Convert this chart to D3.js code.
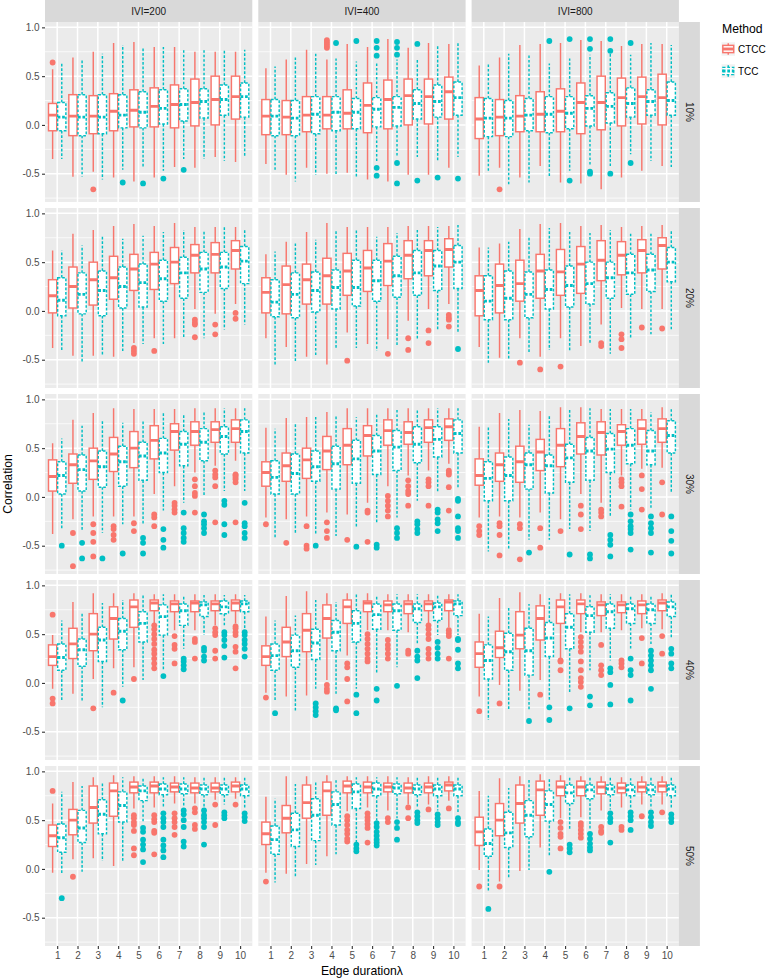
<!DOCTYPE html>
<html><head><meta charset="utf-8">
<script src="https://cdn.jsdelivr.net/npm/d3@7"></script>
<style>
body{margin:0;background:#fff}
svg{display:block}
text{font-family:"Liberation Sans",Arial,Helvetica,sans-serif}
</style>
</head><body><svg id="chart" width="777" height="980"></svg>
<script>
// ---------------- data ----------------
const categories = ["1","2","3","4","5","6","7","8","9","10"];
const iviLabels = ["IVI=200","IVI=400","IVI=800"];
const densityLabels = ["10%","20%","30%","40%","50%"];
const methods = ["CTCC","TCC"];
const yTicks = [-0.5, 0.0, 0.5, 1.0];
// each box: [lower whisker, Q1, median, Q3, upper whisker, ...outliers]; one list of 10 boxes per IVI panel
const ctcc10 = [
 [[-0.35,-0.06,0.10,0.22,0.57,0.64],[-0.53,-0.11,0.09,0.31,0.69],[-0.48,-0.09,0.09,0.30,0.75,-0.66],[-0.54,-0.06,0.14,0.32,0.84],[-0.58,-0.02,0.15,0.36,0.85],[-0.54,-0.02,0.19,0.38,0.80],[-0.43,-0.03,0.21,0.41,0.80],[-0.44,-0.01,0.23,0.47,0.75],[-0.33,0.00,0.26,0.50,0.75],[-0.38,0.06,0.29,0.50,0.75]],
 [[-0.40,-0.10,0.09,0.26,0.58],[-0.51,-0.10,0.08,0.25,0.67],[-0.44,-0.07,0.10,0.29,0.77],[-0.50,-0.04,0.10,0.29,0.67,0.79,0.81,0.83,0.85,0.87],[-0.49,-0.04,0.12,0.36,0.83],[-0.56,-0.08,0.20,0.43,0.80],[-0.58,-0.04,0.26,0.46,0.88],[-0.51,0.00,0.30,0.47,0.79],[-0.51,0.01,0.29,0.47,0.84],[-0.44,0.06,0.34,0.49,0.83]],
 [[-0.52,-0.14,0.06,0.28,0.61],[-0.44,-0.11,0.08,0.26,0.69,-0.66],[-0.54,-0.07,0.09,0.30,0.82],[-0.42,-0.07,0.11,0.34,0.83],[-0.59,-0.07,0.14,0.37,0.84],[-0.60,-0.09,0.23,0.43,0.87],[-0.66,-0.05,0.23,0.50,0.86],[-0.54,-0.01,0.28,0.48,0.81],[-0.47,0.01,0.29,0.49,0.83],[-0.42,0.00,0.28,0.52,0.83]]
];
const tcc10 = [
 [[-0.35,-0.06,0.08,0.23,0.64],[-0.53,-0.11,0.08,0.31,0.67],[-0.56,-0.09,0.08,0.31,0.73],[-0.46,-0.03,0.10,0.31,0.82,-0.59],[-0.44,-0.03,0.13,0.34,0.80,-0.60],[-0.47,0.01,0.17,0.36,0.80,-0.55],[-0.35,0.04,0.21,0.37,0.77,-0.46],[-0.35,0.07,0.24,0.37,0.77],[-0.37,0.10,0.26,0.41,0.77],[-0.33,0.08,0.29,0.43,0.77]],
 [[-0.47,-0.11,0.09,0.26,0.60],[-0.58,-0.11,0.07,0.25,0.69],[-0.51,-0.09,0.11,0.29,0.73],[-0.52,-0.06,0.13,0.29,0.68,0.84],[-0.54,-0.04,0.13,0.27,0.65,0.86],[-0.37,-0.02,0.16,0.28,0.63,0.86,0.79,0.71,-0.44,-0.52],[-0.33,-0.01,0.18,0.29,0.67,0.85,0.79,0.72,-0.39,-0.60],[-0.33,0.06,0.22,0.36,0.68,0.83,-0.57],[-0.37,0.08,0.24,0.41,0.82,-0.54],[-0.33,0.10,0.28,0.44,0.84,-0.55]],
 [[-0.47,-0.12,0.07,0.27,0.63],[-0.61,-0.12,0.07,0.25,0.73],[-0.59,-0.06,0.10,0.27,0.73],[-0.54,-0.08,0.11,0.29,0.63,0.86],[-0.47,-0.04,0.12,0.29,0.68,0.88,-0.57],[-0.42,-0.01,0.17,0.30,0.72,0.88,0.78,-0.48,-0.50],[-0.42,0.02,0.19,0.33,0.79,0.88,0.76,-0.50],[-0.30,0.08,0.22,0.38,0.72,0.84,-0.39],[-0.37,0.10,0.24,0.36,0.84],[-0.43,0.10,0.25,0.44,0.82]]
];
const ctcc20 = [
 [[-0.38,-0.02,0.155,0.32,0.62],[-0.46,0.03,0.25,0.45,0.79],[-0.46,0.06,0.32,0.50,0.83],[-0.47,0.12,0.34,0.56,0.87],[-0.33,0.21,0.43,0.58,0.89,-0.38,-0.41,-0.44],[-0.28,0.22,0.48,0.60,0.87,-0.41],[-0.28,0.28,0.50,0.65,0.90],[0.02,0.39,0.57,0.68,0.86,-0.09,-0.12,-0.14,-0.27],[-0.03,0.39,0.58,0.70,0.86,-0.14,-0.24],[0.07,0.43,0.62,0.72,0.86,-0.02,-0.08]],
 [[-0.28,-0.02,0.19,0.34,0.58],[-0.37,-0.03,0.27,0.46,0.71],[-0.47,0.07,0.32,0.48,0.81],[-0.55,0.07,0.36,0.54,0.90],[-0.22,0.16,0.41,0.59,0.86,-0.51],[-0.34,0.20,0.44,0.62,0.86],[-0.29,0.26,0.51,0.69,0.86,-0.44],[-0.10,0.33,0.57,0.72,0.87,-0.28,-0.40],[0.02,0.36,0.62,0.72,0.87,-0.20,-0.33],[0.07,0.45,0.63,0.74,0.87,-0.04,-0.07,-0.09,-0.16]],
 [[-0.37,-0.05,0.21,0.36,0.65],[-0.48,-0.02,0.26,0.48,0.69],[-0.28,0.10,0.28,0.52,0.84,-0.53],[-0.47,0.13,0.41,0.58,0.89,-0.60],[-0.28,0.16,0.40,0.63,0.90,-0.57],[-0.36,0.18,0.48,0.66,0.87],[-0.14,0.31,0.52,0.72,0.88,-0.33,-0.36],[0.03,0.37,0.57,0.71,0.86,-0.24,-0.29,-0.38],[0.02,0.39,0.62,0.73,0.87,-0.17],[0.02,0.43,0.67,0.75,0.88,-0.18]]
];
const tcc20 = [
 [[-0.40,-0.05,0.11,0.34,0.62],[-0.52,-0.03,0.17,0.39,0.67],[-0.45,-0.05,0.21,0.41,0.76],[-0.41,0.03,0.25,0.45,0.74],[-0.34,0.04,0.29,0.48,0.77],[-0.34,0.10,0.33,0.52,0.81],[-0.28,0.13,0.39,0.55,0.83],[-0.28,0.19,0.43,0.60,0.83],[-0.19,0.23,0.45,0.60,0.87],[-0.14,0.28,0.51,0.66,0.84]],
 [[-0.56,-0.06,0.09,0.32,0.61],[-0.53,-0.07,0.17,0.39,0.69],[-0.47,-0.01,0.21,0.40,0.73],[-0.38,0.02,0.24,0.42,0.83],[-0.38,0.05,0.24,0.52,0.83],[-0.41,0.10,0.31,0.52,0.76],[-0.36,0.14,0.36,0.56,0.80],[-0.29,0.16,0.39,0.62,0.83],[-0.20,0.21,0.46,0.62,0.86],[-0.23,0.23,0.50,0.67,0.88,-0.39]],
 [[-0.53,-0.09,0.10,0.36,0.65],[-0.50,-0.09,0.13,0.41,0.71],[-0.43,-0.07,0.17,0.40,0.76],[-0.40,0.02,0.22,0.42,0.85],[-0.41,0.04,0.26,0.46,0.81],[-0.34,0.07,0.28,0.50,0.80],[-0.44,0.13,0.34,0.50,0.83],[-0.29,0.17,0.39,0.58,0.81],[-0.24,0.20,0.42,0.58,0.81],[-0.20,0.30,0.50,0.65,0.82]]
];
const ctcc30 = [
 [[-0.38,0.06,0.21,0.38,0.55],[-0.23,0.14,0.33,0.44,0.79,-0.37,-0.71],[-0.20,0.18,0.37,0.50,0.86,-0.28,-0.37,-0.46,-0.61],[-0.20,0.26,0.44,0.61,0.91,-0.30,-0.33,-0.39,-0.44],[-0.20,0.30,0.50,0.67,0.90,-0.27,-0.35],[0.03,0.39,0.58,0.73,0.90,-0.18,-0.21,-0.30],[0.11,0.48,0.67,0.75,0.90,-0.06,-0.09,-0.13,-0.16],[0.25,0.53,0.67,0.77,0.91,0.18,0.11,0.04,0.01,-0.16],[0.32,0.56,0.69,0.77,0.91,0.27,0.23,0.20,0.11,-0.26],[0.37,0.56,0.70,0.79,0.91,0.23,0.22,0.20,0.18,0.15,-0.26]],
 [[-0.21,0.11,0.25,0.36,0.71,-0.28],[-0.23,0.16,0.32,0.45,0.81,-0.47],[-0.20,0.19,0.38,0.50,0.82,-0.30,-0.50,-0.53],[-0.16,0.28,0.47,0.62,0.87,-0.26,-0.35,-0.42],[-0.18,0.33,0.53,0.70,0.91,-0.44],[-0.06,0.42,0.63,0.73,0.91,-0.14,-0.16,-0.46],[0.11,0.53,0.68,0.79,0.91,0.01,-0.04,-0.09,-0.14,-0.20],[0.22,0.54,0.66,0.77,0.91,0.17,0.11,0.06,0.03,-0.09],[0.27,0.56,0.71,0.79,0.91,0.18,0.15,0.11,-0.09],[0.34,0.58,0.72,0.80,0.91,0.27,0.25,0.23,0.10,-0.14]],
 [[-0.21,0.12,0.22,0.39,0.72,-0.30,-0.35,-0.39],[-0.20,0.16,0.33,0.45,0.86,-0.27,-0.30,-0.39,-0.60],[-0.21,0.15,0.36,0.52,0.89,-0.28,-0.32,-0.64],[-0.16,0.27,0.46,0.59,0.88,-0.32,-0.52],[-0.23,0.31,0.53,0.70,0.92,-0.35],[0.03,0.44,0.62,0.76,0.92,-0.09,-0.18,-0.33],[-0.06,0.43,0.66,0.77,0.90,-0.13,-0.16,-0.20],[0.22,0.53,0.67,0.74,0.90,0.18,0.15,0.11,-0.10],[0.29,0.54,0.70,0.79,0.90,0.22,0.08,-0.13],[0.30,0.56,0.70,0.80,0.92,0.15,-0.18]]
];
const tcc30 = [
 [[-0.33,0.03,0.22,0.36,0.60,-0.50],[-0.34,0.06,0.28,0.43,0.73,-0.47,-0.63],[-0.37,0.10,0.31,0.47,0.78,-0.63],[-0.28,0.11,0.36,0.52,0.76,-0.58],[-0.28,0.17,0.42,0.56,0.79,-0.42,-0.47,-0.58],[-0.14,0.25,0.45,0.60,0.86,-0.33,-0.44,-0.52],[-0.06,0.32,0.54,0.67,0.84,-0.16,-0.32,-0.37,-0.42,-0.46],[0.01,0.37,0.56,0.70,0.88,-0.18,-0.25,-0.28,-0.32,-0.37],[0.06,0.44,0.62,0.72,0.91,-0.04,-0.08,-0.28,-0.39],[0.06,0.45,0.67,0.79,0.92,-0.06,-0.27,-0.30,-0.37,-0.42]],
 [[-0.42,0.03,0.20,0.37,0.70],[-0.37,0.03,0.24,0.44,0.75],[-0.39,0.16,0.31,0.47,0.82,-0.50],[-0.40,0.08,0.34,0.52,0.84],[-0.32,0.14,0.39,0.58,0.82,-0.51],[-0.27,0.23,0.47,0.63,0.86,-0.49,-0.52],[-0.21,0.27,0.51,0.68,0.89,-0.32,-0.37,-0.42],[-0.04,0.35,0.54,0.72,0.90,-0.25,-0.28,-0.33,-0.37],[0.04,0.41,0.59,0.72,0.91,-0.13,-0.16,-0.23,-0.27,-0.35],[0.08,0.45,0.65,0.79,0.92,-0.02,-0.04,-0.20,-0.32,-0.35,-0.42]],
 [[-0.56,-0.04,0.19,0.36,0.72],[-0.54,-0.04,0.22,0.41,0.80],[-0.44,0.08,0.33,0.45,0.74,-0.57],[-0.44,0.04,0.32,0.43,0.84],[-0.33,0.15,0.40,0.54,0.91,-0.59],[-0.35,0.17,0.47,0.61,0.91,-0.59,-0.63],[-0.20,0.25,0.49,0.65,0.90,-0.39,-0.44,-0.49,-0.61],[-0.13,0.34,0.53,0.70,0.90,-0.18,-0.25,-0.30,-0.33,-0.37,-0.54],[-0.11,0.33,0.47,0.68,0.87,-0.20,-0.27,-0.32,-0.37,-0.57],[0.05,0.45,0.63,0.78,0.90,-0.20,-0.35,-0.45,-0.58]]
];
const ctcc40 = [
 [[-0.06,0.18,0.27,0.39,0.49,0.70,-0.16,-0.21],[-0.11,0.25,0.40,0.56,0.83],[0.04,0.33,0.50,0.71,0.92,-0.26],[0.15,0.45,0.66,0.78,0.92,-0.10],[0.16,0.57,0.78,0.85,0.92,0.04],[0.61,0.74,0.82,0.85,0.91,0.59,0.55,0.50,0.45,0.40,0.34,0.30,0.25,0.20,0.15],[0.54,0.73,0.81,0.84,0.91,0.48,0.39,0.35,0.20],[0.54,0.73,0.82,0.84,0.91,0.45,0.42,0.25],[0.59,0.74,0.81,0.84,0.91,0.56,0.52,0.49,0.33,0.25],[0.61,0.74,0.82,0.85,0.91,0.58,0.56,0.52,0.49,0.37,0.32,0.15]],
 [[-0.10,0.18,0.27,0.38,0.68,-0.15],[-0.14,0.27,0.42,0.57,0.89],[-0.13,0.32,0.54,0.71,0.94],[0.03,0.46,0.66,0.80,0.92,-0.02,-0.06,-0.09],[0.28,0.61,0.78,0.85,0.92,0.20,0.16,0.04,-0.19],[0.54,0.73,0.82,0.84,0.92,0.50,0.45,0.40,0.35,0.30,0.25,0.22],[0.54,0.73,0.80,0.84,0.91,0.44,0.39,0.35,0.30,0.25],[0.52,0.71,0.81,0.84,0.91,0.33,0.30],[0.61,0.74,0.81,0.84,0.91,0.59,0.55,0.50,0.45,0.35,0.30,0.25],[0.57,0.74,0.83,0.85,0.91,0.54,0.51,0.48,0.25]],
 [[-0.14,0.16,0.30,0.42,0.71,-0.29],[-0.02,0.26,0.36,0.53,0.87,-0.21],[-0.08,0.35,0.49,0.73,0.93],[0.03,0.44,0.66,0.79,0.91,-0.12],[0.25,0.61,0.78,0.85,0.92,0.23,0.22,0.13],[0.52,0.71,0.81,0.85,0.92,0.47,0.42,0.37,0.32,0.22,0.13,0.05,0.01,-0.04],[0.52,0.69,0.80,0.83,0.91,0.39,0.18,0.13,0.08],[0.54,0.72,0.80,0.83,0.91,0.23,0.20,0.16],[0.56,0.71,0.80,0.84,0.91,0.46,0.20],[0.55,0.74,0.82,0.85,0.92,0.48,0.30]]
];
const tcc40 = [
 [[-0.18,0.13,0.26,0.40,0.64],[-0.18,0.17,0.34,0.45,0.71],[-0.25,0.22,0.44,0.57,0.82],[-0.04,0.34,0.53,0.66,0.85,-0.18],[0.03,0.42,0.61,0.73,0.90],[0.13,0.49,0.68,0.80,0.91,0.07],[0.35,0.59,0.74,0.81,0.90,0.25,0.22,0.18,0.14],[0.49,0.68,0.80,0.83,0.90,0.36,0.33,0.27,0.23],[0.57,0.71,0.78,0.84,0.90,0.52,0.49,0.44,0.38,0.26],[0.56,0.73,0.81,0.84,0.90,0.52,0.49,0.44,0.40,0.35,0.27]],
 [[-0.18,0.13,0.28,0.40,0.64,-0.31],[-0.30,0.16,0.33,0.49,0.69],[-0.06,0.24,0.41,0.55,0.85,-0.21,-0.25,-0.29,-0.33],[-0.11,0.33,0.52,0.64,0.83,-0.26,-0.28],[-0.06,0.42,0.61,0.74,0.92,-0.12,-0.31],[0.10,0.55,0.70,0.81,0.90,-0.06,-0.18],[0.16,0.54,0.74,0.81,0.91,-0.03],[0.39,0.62,0.76,0.81,0.91,0.33,0.27,0.23,0.05],[0.49,0.64,0.78,0.82,0.91,0.42,0.36,0.30,0.25],[0.49,0.69,0.81,0.84,0.91,0.45,0.44,0.34,0.20,0.15]],
 [[-0.38,0.04,0.23,0.39,0.68],[-0.28,0.13,0.32,0.51,0.78],[-0.28,0.08,0.33,0.56,0.81,-0.39],[-0.18,0.27,0.46,0.62,0.87,-0.25,-0.38],[-0.11,0.35,0.57,0.71,0.91,-0.26],[0.13,0.52,0.69,0.78,0.91,-0.14,-0.23],[0.23,0.56,0.73,0.81,0.91,0.15,0.11,-0.02,-0.22],[0.35,0.61,0.76,0.81,0.90,0.25,0.13,0.08,-0.18],[0.39,0.61,0.75,0.81,0.90,0.33,0.28,0.23,0.18,0.13,-0.06],[0.45,0.68,0.78,0.83,0.91,0.35,0.30,0.20,0.15]]
];
const ctcc50 = [
 [[-0.04,0.23,0.34,0.45,0.67,0.80],[0.10,0.35,0.50,0.61,0.89,-0.08],[0.11,0.47,0.63,0.85,0.94],[0.03,0.54,0.80,0.88,0.96],[0.62,0.78,0.84,0.89,0.95,0.55,0.52,0.48,0.45,0.39,0.21,0.14],[0.63,0.78,0.85,0.89,0.95,0.55,0.51,0.48,0.39,0.37,0.15],[0.67,0.79,0.84,0.88,0.95,0.57,0.52,0.48,0.43,0.35],[0.67,0.78,0.83,0.88,0.94,0.62,0.58,0.45,0.41],[0.71,0.79,0.83,0.88,0.94,0.66,0.45],[0.72,0.79,0.85,0.89,0.94,0.66]],
 [[-0.04,0.25,0.36,0.48,0.74,-0.13],[-0.05,0.37,0.52,0.65,0.95],[0.05,0.52,0.68,0.86,0.95],[0.13,0.55,0.80,0.89,0.96],[0.59,0.78,0.85,0.90,0.95,0.54,0.50,0.45,0.40,0.36,0.31,0.28],[0.63,0.78,0.84,0.89,0.95,0.57,0.53,0.50,0.46,0.42,0.27],[0.60,0.79,0.84,0.88,0.95,0.52,0.48],[0.66,0.78,0.83,0.88,0.94,0.63,0.52],[0.66,0.78,0.84,0.88,0.95,0.61],[0.70,0.80,0.86,0.89,0.95,0.62]],
 [[-0.01,0.24,0.38,0.53,0.80,-0.18],[-0.13,0.34,0.50,0.67,0.93,-0.18],[-0.02,0.47,0.67,0.86,0.95],[0.22,0.55,0.81,0.90,0.97],[0.52,0.75,0.84,0.90,0.96,0.48,0.42,0.36,0.33,0.21],[0.53,0.75,0.84,0.90,0.95,0.47,0.44,0.40,0.36,0.32],[0.60,0.77,0.84,0.89,0.95,0.43,0.39,0.37],[0.63,0.78,0.83,0.88,0.94,0.43,0.40],[0.66,0.79,0.84,0.89,0.95,0.54],[0.66,0.79,0.85,0.89,0.95,0.58]]
];
const tcc50 = [
 [[-0.06,0.17,0.32,0.46,0.79,-0.30],[-0.03,0.27,0.42,0.60,0.85],[0.08,0.36,0.56,0.71,0.89],[0.07,0.48,0.65,0.79,0.94],[0.48,0.70,0.80,0.85,0.94,0.42,0.38,0.30,0.25,0.20,0.07],[0.63,0.76,0.82,0.87,0.94,0.57,0.52,0.48,0.43,0.30,0.24,0.19,0.12],[0.64,0.77,0.82,0.87,0.94,0.60,0.56,0.50,0.43,0.28,0.23],[0.63,0.76,0.82,0.86,0.94,0.60,0.55,0.52,0.48,0.43,0.25],[0.66,0.76,0.82,0.86,0.94,0.58,0.55,0.52],[0.63,0.75,0.82,0.86,0.94,0.57,0.53,0.49]],
 [[-0.14,0.15,0.30,0.44,0.72],[-0.09,0.23,0.40,0.57,0.87],[0.04,0.29,0.55,0.72,0.90],[0.15,0.45,0.66,0.79,0.92],[0.27,0.62,0.79,0.87,0.94,0.25,0.21,0.18],[0.50,0.75,0.82,0.88,0.94,0.47,0.43,0.38,0.34,0.30,0.27,0.24],[0.52,0.77,0.83,0.87,0.94,0.48,0.42,0.30],[0.63,0.76,0.82,0.86,0.94,0.58,0.54,0.50,0.47],[0.60,0.75,0.82,0.86,0.94,0.56,0.52,0.48,0.45],[0.58,0.75,0.82,0.86,0.94,0.52,0.48,0.46]],
 [[-0.22,0.13,0.26,0.41,0.75,-0.41],[-0.10,0.22,0.37,0.58,0.83],[-0.01,0.33,0.55,0.70,0.93],[0.13,0.49,0.66,0.80,0.93,-0.03],[0.40,0.67,0.78,0.86,0.94,0.25,0.21,0.17],[0.40,0.72,0.81,0.86,0.95,0.36,0.31,0.26,0.22,0.19],[0.61,0.76,0.82,0.86,0.95,0.57,0.52,0.48,0.27],[0.63,0.75,0.81,0.86,0.93,0.58,0.54,0.50,0.40],[0.62,0.76,0.81,0.86,0.94,0.58,0.53,0.48,0.44],[0.62,0.75,0.82,0.86,0.94,0.56,0.52,0.48]]
];

// --------------- drawing ---------------
const byMethod = {
  CTCC: [ctcc10, ctcc20, ctcc30, ctcc40, ctcc50],
  TCC:  [tcc10, tcc20, tcc30, tcc40, tcc50]
};
const color = d3.scaleOrdinal().domain(methods).range(["#F8766D", "#00BFC4"]);
const dashFor = m => m === "TCC" ? "2.7,1.8" : null;

const svg = d3.select("#chart");
svg.append("rect").attr("width", 777).attr("height", 980).attr("fill", "#fff");

const panelLeft0 = 45, panelTop0 = 22, pw = 207.3, ph = 180, gap = 6, stripH = 22, stripW = 21;
const x = d3.scalePoint().domain(categories).range([0, pw]).padding(0.6);
const step = x.step();
const dodge = d3.scaleBand().domain(methods).range([-0.45 * step, 0.45 * step]);
const boxW = dodge.bandwidth() * 0.9;
const y = d3.scaleLinear().domain([-0.79, 1.055]).range([ph, 0]);
const yMinor = yTicks.map(t => t - 0.25).filter(t => t >= y.domain()[0]);
const lw = 1.45;

const defs = svg.append("defs");
defs.append("clipPath").attr("id", "pclip").append("rect").attr("width", pw).attr("height", ph);

densityLabels.forEach((dl, r) => {
  iviLabels.forEach((il, c) => {
    const px = panelLeft0 + c * (pw + gap), py = panelTop0 + r * (ph + gap);
    const g = svg.append("g").attr("transform", `translate(${px},${py})`);
    g.append("rect").attr("width", pw).attr("height", ph).attr("fill", "#EBEBEB");
    g.selectAll(".ymin").data(yMinor).join("line")
      .attr("x1", 0).attr("x2", pw).attr("y1", d => y(d)).attr("y2", d => y(d))
      .attr("stroke", "#fff").attr("stroke-width", 0.75);
    g.selectAll(".ymaj").data(yTicks).join("line")
      .attr("x1", 0).attr("x2", pw).attr("y1", d => y(d)).attr("y2", d => y(d))
      .attr("stroke", "#fff").attr("stroke-width", 1.5);
    g.selectAll(".xmaj").data(categories).join("line")
      .attr("x1", d => x(d)).attr("x2", d => x(d)).attr("y1", 0).attr("y2", ph)
      .attr("stroke", "#fff").attr("stroke-width", 1.5);

    const gb = g.append("g").attr("clip-path", "url(#pclip)");
    categories.forEach((cat, i) => {
      methods.forEach(m => {
        const b = byMethod[m][r][c][i];
        const [lo, q1, med, q3, hi] = b;
        const outs = b.slice(5);
        const cx = x(cat) + dodge(m) + dodge.bandwidth() / 2;
        const col = color(m), da = dashFor(m);
        const bg = gb.append("g");
        bg.selectAll("circle").data(outs).join("circle")
          .attr("cx", cx).attr("cy", d => y(d)).attr("r", 2.9).attr("fill", col);
        bg.append("line").attr("x1", cx).attr("x2", cx).attr("y1", y(q3)).attr("y2", y(hi))
          .attr("stroke", col).attr("stroke-width", lw).attr("stroke-dasharray", da);
        bg.append("line").attr("x1", cx).attr("x2", cx).attr("y1", y(q1)).attr("y2", y(lo))
          .attr("stroke", col).attr("stroke-width", lw).attr("stroke-dasharray", da);
        bg.append("rect").attr("x", cx - boxW / 2).attr("width", boxW)
          .attr("y", y(q3)).attr("height", y(q1) - y(q3))
          .attr("fill", "#fff").attr("stroke", col).attr("stroke-width", lw).attr("stroke-dasharray", da);
        bg.append("line").attr("x1", cx - boxW / 2).attr("x2", cx + boxW / 2).attr("y1", y(med)).attr("y2", y(med))
          .attr("stroke", col).attr("stroke-width", lw * 2).attr("stroke-dasharray", da);
      });
    });

    // top strip
    if (r === 0) {
      const s = svg.append("g").attr("transform", `translate(${px},${py - stripH})`);
      s.append("rect").attr("width", pw).attr("height", stripH).attr("fill", "#D9D9D9");
      s.append("text").attr("x", pw / 2).attr("y", stripH / 2).attr("dy", "0.35em")
        .attr("text-anchor", "middle").attr("font-size", 10).attr("fill", "#1A1A1A").text(il);
    }
    // right strip
    if (c === iviLabels.length - 1) {
      const s = svg.append("g").attr("transform", `translate(${px + pw},${py})`);
      s.append("rect").attr("width", stripW).attr("height", ph).attr("fill", "#D9D9D9");
      s.append("text").attr("transform", `translate(${stripW / 2},${ph / 2}) rotate(90)`)
        .attr("dy", "0.35em").attr("text-anchor", "middle").attr("font-size", 10)
        .attr("fill", "#1A1A1A").text(dl);
    }
    // y axis
    if (c === 0) {
      const ax = g.append("g").call(d3.axisLeft(y).tickValues(yTicks).tickSize(3).tickPadding(2.4)
        .tickFormat(d => d.toFixed(1)));
      ax.select(".domain").remove();
      ax.selectAll("line").attr("stroke", "#333333").attr("stroke-width", 1.1);
      ax.selectAll("text").attr("fill", "#4D4D4D").attr("font-size", 10)
        .attr("font-family", '"Liberation Sans",Arial,sans-serif');
    }
    // x axis
    if (r === densityLabels.length - 1) {
      const ax = g.append("g").attr("transform", `translate(0,${ph})`)
        .call(d3.axisBottom(x).tickSize(3).tickPadding(2.4));
      ax.select(".domain").remove();
      ax.selectAll("line").attr("stroke", "#333333").attr("stroke-width", 1.1);
      ax.selectAll("text").attr("fill", "#4D4D4D").attr("font-size", 10)
        .attr("font-family", '"Liberation Sans",Arial,sans-serif');
    }
  });
});

// axis titles
const plotBottom = panelTop0 + densityLabels.length * ph + (densityLabels.length - 1) * gap;
const plotRight = panelLeft0 + iviLabels.length * pw + (iviLabels.length - 1) * gap;
svg.append("text").attr("transform", `translate(12,${(panelTop0 + plotBottom) / 2}) rotate(-90)`)
  .attr("text-anchor", "middle").attr("font-size", 12.2).attr("fill", "#000").text("Correlation");
svg.append("text").attr("x", (panelLeft0 + plotRight) / 2).attr("y", 975)
  .attr("text-anchor", "middle").attr("font-size", 12.2).attr("fill", "#000").text("Edge durationλ");

// legend
const lg = svg.append("g").attr("transform", "translate(721,0)");
lg.append("text").attr("x", 1).attr("y", 33).attr("font-size", 12.2).attr("fill", "#000").text("Method");
const ks = 14.5;
methods.forEach((m, i) => {
  const cy = 49 + i * 22;
  const k = lg.append("g").attr("transform", `translate(0,${cy - ks / 2})`);
  k.append("rect").attr("width", ks).attr("height", ks).attr("fill", "#F2F2F2").attr("stroke", "#fff");
  const col = color(m), da = dashFor(m);
  k.append("line").attr("x1", ks / 2).attr("x2", ks / 2).attr("y1", ks * 0.1).attr("y2", ks * 0.25)
    .attr("stroke", col).attr("stroke-width", lw).attr("stroke-dasharray", da);
  k.append("line").attr("x1", ks / 2).attr("x2", ks / 2).attr("y1", ks * 0.75).attr("y2", ks * 0.9)
    .attr("stroke", col).attr("stroke-width", lw).attr("stroke-dasharray", da);
  k.append("rect").attr("x", ks * 0.125).attr("width", ks * 0.75).attr("y", ks * 0.25).attr("height", ks * 0.5)
    .attr("fill", "#fff").attr("stroke", col).attr("stroke-width", lw).attr("stroke-dasharray", da);
  k.append("line").attr("x1", ks * 0.125).attr("x2", ks * 0.875).attr("y1", ks / 2).attr("y2", ks / 2)
    .attr("stroke", col).attr("stroke-width", lw * 2).attr("stroke-dasharray", da);
  lg.append("text").attr("x", ks + 2.5).attr("y", cy).attr("dy", "0.35em")
    .attr("font-size", 10).attr("fill", "#000").text(m);
});
</script>
</body></html>
